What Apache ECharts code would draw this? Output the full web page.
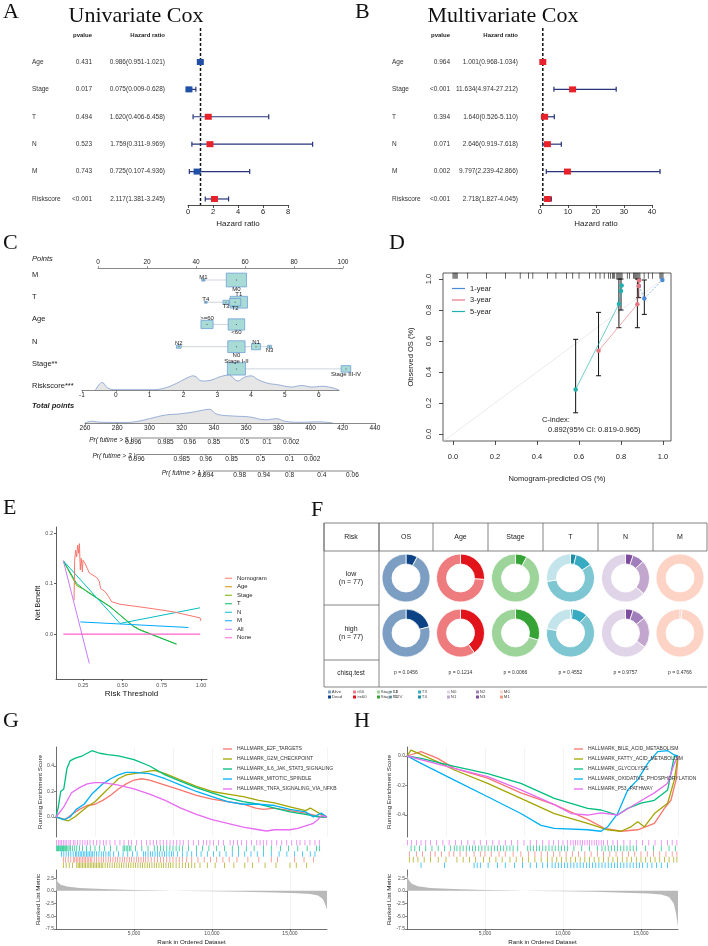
<!DOCTYPE html>
<html>
<head>
<meta charset="utf-8">
<script src="https://cdn.jsdelivr.net/npm/echarts@6.0.0/dist/echarts.min.js"></script>
<style>
html,body{margin:0;padding:0;background:#fff;}
#main{width:708px;height:946px;}
</style>
</head>
<body>
<div id="main"></div>
<script>
// ---------- data ----------
// A / B: cox regression
var coxVars = ['Age', 'Stage', 'T', 'N', 'M', 'Riskscore'];
var uniP = ['0.431', '0.017', '0.494', '0.523', '0.743', '<0.001'];
var uniHR = [0.986, 0.075, 1.620, 1.759, 0.725, 2.117];
var uniLo = [0.951, 0.009, 0.406, 0.311, 0.107, 1.381];
var uniHi = [1.021, 0.628, 6.458, 9.969, 4.936, 3.245];
var multiP = ['0.964', '<0.001', '0.394', '0.071', '0.002', '<0.001'];
var multiHR = [1.001, 11.634, 1.640, 2.646, 9.797, 2.718];
var multiLo = [0.968, 4.974, 0.526, 0.919, 2.239, 1.827];
var multiHi = [1.034, 27.212, 5.110, 7.618, 42.866, 4.045];

// C: nomogram
var nomoVars = ['M', 'T', 'Age', 'N', 'Stage**'];
var nomoLevels = [['M1', 'M0'], ['T4', 'T3', 'T2', 'T1'], ['>=60', '<60'], ['N2', 'N0', 'N1', 'N3'], ['Stage I-II', 'Stage III-IV']];
var nomoPoints = [[43, 56.5], [44, 52.2, 56, 57.5], [44.5, 56.5], [33, 56.5, 64.5, 70], [56.5, 101.2]];
var nomoCounts = [[4, 150], [3, 12, 45, 110], [54, 100], [8, 110, 30, 6], [120, 34]];
var riskDensity = [[-0.6, 0], [-0.5, 0.35], [-0.4, 0.5], [-0.25, 0.15], [0, 0.02], [1, 0.02], [1.4, 0.1], [1.8, 0.45], [2.1, 0.8], [2.3, 0.95], [2.55, 0.6], [2.8, 0.65], [3.1, 0.9], [3.35, 1.0], [3.6, 0.6], [3.8, 0.85], [4.0, 0.95], [4.2, 0.7], [4.5, 0.45], [4.8, 0.35], [5.2, 0.2], [5.5, 0.3], [5.8, 0.2], [6.1, 0.25], [6.4, 0.15], [6.6, 0]];
var riskTicks = [-1, 0, 1, 2, 3, 4, 5, 6];
var totalDensity = [[260, 0], [264, 0.12], [270, 0.05], [285, 0.04], [292, 0.1], [300, 0.3], [310, 0.55], [318, 0.62], [327, 0.75], [333, 0.88], [337, 0.95], [342, 0.6], [352, 0.48], [362, 0.42], [372, 0.22], [379, 0.3], [384, 0.12], [393, 0.05], [405, 0.08], [414, 0]];
var prLabels = ['Pr( futime > 5 )', 'Pr( futime > 3 )', 'Pr( futime > 1 )'];
var prTicks = [['0.996', '0.985', '0.96', '0.85', '0.5', '0.1', '0.002'],
               ['0.996', '0.985', '0.96', '0.85', '0.5', '0.1', '0.002'],
               ['0.994', '0.98', '0.94', '0.8', '0.4', '0.06']];
var prTotal = [[290, 310, 325, 340, 359, 373, 388],
               [292, 320, 335, 351, 369, 387, 401],
               [335, 356, 371, 387, 407, 426]];

// D: calibration
var calTicks = [0, 0.2, 0.4, 0.6, 0.8, 1.0];
var calYears = ['1-year', '3-year', '5-year'];
var cal1 = [[0.885, 0.955], [0.911, 0.875], [0.997, 0.994]];
var cal3 = [[0.693, 0.537], [0.878, 0.837], [0.884, 0.955], [0.886, 0.99]];
var cal5 = [[0.584, 0.288], [0.79, 0.839], [0.80, 0.923], [0.803, 0.959]];
var calBars = [[0.584, 0.137, 0.611], [0.693, 0.376, 0.785], [0.79, 0.686, 1.0], [0.80, 0.80, 1.0], [0.878, 0.686, 1.0], [0.884, 0.88, 1.0], [0.911, 0.772, 0.994]];
var calRug = [0.0, 0.005, 0.01, 0.015, 0.02, 0.07, 0.16, 0.25, 0.32, 0.36, 0.38, 0.45, 0.49, 0.54, 0.57, 0.6, 0.65, 0.68, 0.7, 0.72, 0.74, 0.75, 0.76, 0.765, 0.77, 0.78, 0.785, 0.79, 0.795, 0.8, 0.805, 0.83, 0.84, 0.86, 0.865, 0.87, 0.875, 0.88, 0.885, 0.89, 0.91, 0.93, 0.95, 0.985, 0.99, 0.995, 1.0];

// E: decision curves
var dcaNames = ['Nomogram', 'Age', 'Stage', 'T', 'N', 'M', 'All', 'None'];
var dcaNomogram = [[0.193, 0.067], [0.197, 0.146], [0.203, 0.166], [0.21, 0.153], [0.216, 0.176], [0.222, 0.16], [0.227, 0.179], [0.233, 0.127], [0.239, 0.15], [0.246, 0.123], [0.25, 0.146], [0.263, 0.14], [0.277, 0.13], [0.29, 0.121], [0.337, 0.112], [0.354, 0.104], [0.362, 0.09], [0.39, 0.084], [0.411, 0.075], [0.432, 0.064], [0.485, 0.059], [0.676, 0.051], [0.824, 0.044], [0.994, 0.032], [1.0, 0.026]];
var dcaAge = [];
var dcaStage = [[0.125, 0.145], [0.21, 0.096], [0.27, 0.086], [0.42, 0.055], [0.57, 0.016], [0.61, 0.009], [0.844, -0.02]];
var dcaT = [[0.125, 0.145], [0.21, 0.1], [0.274, 0.084], [0.422, 0.054], [0.57, 0.015], [0.612, 0.008], [0.844, -0.02]];
var dcaN = [[0.125, 0.145], [0.485, 0.021], [0.994, 0.052]];
var dcaM = [[0.233, 0.024], [0.92, 0.013]];
var dcaAll = [[0.125, 0.145], [0.29, -0.058]];
var dcaNone = [[0.125, 0], [0.995, 0]];

// F: clinical feature table
var fVars = ['OS', 'Age', 'Stage', 'T', 'N', 'M'];
var fLevels = [['Alive', 'Dead'], ['<60', '>=60'], ['Stage I-II', 'Stage III-IV'], ['T1', 'T2', 'T3', 'T4'], ['N0', 'N1', 'N2', 'N3'], ['M0', 'M1']];
var fLow = [[71, 6], [57, 20], [71, 6], [21, 44, 9, 3], [49, 18, 6, 4], [77, 0]];
var fHigh = [[61, 16], [46, 31], [54, 23], [17, 51, 8, 1], [50, 16, 7, 4], [76, 1]];
var fRows = ['low\n(n = 77)', 'high\n(n = 77)'];
var fPvals = ['p = 0.0456', 'p = 0.1214', 'p = 0.0066', 'p = 0.4552', 'p = 0.9757', 'p = 0.4766'];

// G / H: GSEA
var rankMax = 17372;
var gNames = ['HALLMARK_E2F_TARGETS', 'HALLMARK_G2M_CHECKPOINT', 'HALLMARK_IL6_JAK_STAT3_SIGNALING', 'HALLMARK_MITOTIC_SPINDLE', 'HALLMARK_TNFA_SIGNALING_VIA_NFKB'];
var gE2F = [[0, 0], [600, -0.02], [1000, 0.02], [1500, 0.06], [2000, 0.09], [2500, 0.1], [3000, 0.13], [3500, 0.17], [4000, 0.22], [4500, 0.26], [5000, 0.29], [5500, 0.3], [6000, 0.29], [7000, 0.25], [8000, 0.21], [9000, 0.17], [10000, 0.14], [11000, 0.12], [12000, 0.1], [12800, 0.07], [13300, 0.06], [14000, 0.07], [15000, 0.05], [16000, 0.03], [17000, 0.0], [17372, 0]];
var gG2M = [[0, 0], [500, -0.02], [800, -0.03], [1200, 0.0], [2000, 0.08], [2500, 0.12], [3000, 0.18], [3500, 0.24], [4000, 0.3], [4500, 0.33], [5000, 0.34], [5500, 0.35], [6300, 0.365], [7000, 0.34], [8000, 0.29], [9000, 0.24], [10000, 0.2], [11000, 0.18], [12000, 0.16], [13000, 0.13], [14000, 0.11], [15000, 0.08], [16000, 0.05], [16300, 0.07], [17000, 0.02], [17372, 0]];
var gIL6 = [[0, 0], [150, 0.08], [300, 0.2], [500, 0.22], [700, 0.38], [900, 0.44], [1200, 0.46], [1700, 0.48], [2300, 0.52], [2800, 0.5], [3300, 0.49], [4000, 0.48], [5000, 0.45], [6000, 0.4], [7000, 0.33], [8000, 0.28], [9000, 0.23], [10000, 0.19], [11000, 0.15], [12000, 0.12], [13000, 0.1], [14000, 0.07], [15000, 0.04], [16000, 0.02], [16800, 0.0], [17372, 0]];
var gMIT = [[0, 0], [500, -0.02], [900, 0.0], [1300, 0.06], [1800, 0.1], [2300, 0.18], [3000, 0.26], [3500, 0.3], [4000, 0.33], [4500, 0.35], [5000, 0.35], [6000, 0.34], [7000, 0.3], [8000, 0.25], [9000, 0.2], [10000, 0.16], [11000, 0.12], [12000, 0.1], [13000, 0.1], [14000, 0.09], [15000, 0.06], [16000, 0.04], [16500, 0.0], [17000, 0.03], [17372, 0]];
var gTNF = [[0, 0], [500, 0.08], [1000, 0.19], [1500, 0.23], [2000, 0.26], [2500, 0.27], [3000, 0.27], [3500, 0.26], [4000, 0.25], [5000, 0.22], [6000, 0.18], [7000, 0.13], [8000, 0.07], [9000, 0.02], [10000, -0.02], [11000, -0.05], [12000, -0.08], [13000, -0.1], [13500, -0.11], [14000, -0.1], [15000, -0.1], [15500, -0.09], [16000, -0.07], [16500, -0.05], [16800, -0.02], [17000, 0.01], [17372, 0]];
var gHitsE2F = [470, 620, 780, 950, 1110, 1200, 1300, 1400, 1500, 1600, 1700, 1800, 1900, 2000, 2100, 2200, 2300, 2450, 2600, 2750, 2900, 3050, 3200, 3350, 3500, 3650, 3800, 3950, 4100, 4250, 4400, 4550, 4700, 4850, 5000, 5150, 5300, 5450, 5600, 5750, 5900, 6100, 6300, 6500, 6700, 6900, 7100, 7300, 7500, 7700, 7900, 8100, 8380, 8700, 9100, 9500, 9900, 10300, 10700, 11100, 11600, 12300, 13000, 13800, 14200, 15300, 15900, 16500];
var gHitsG2M = [470, 650, 850, 1050, 1330, 1420, 1510, 1600, 1700, 1800, 1900, 2000, 2100, 2200, 2300, 2400, 2500, 2600, 2700, 2800, 2900, 3000, 3150, 3300, 3450, 3600, 3750, 3900, 4050, 4200, 4350, 4500, 4650, 4800, 4950, 5100, 5250, 5400, 5550, 5700, 5850, 6000, 6150, 6300, 6450, 6600, 6750, 6900, 7050, 7200, 7350, 7500, 7700, 7900, 8100, 8300, 8500, 8700, 8900, 9230, 9700, 10200, 10800, 11400, 12100, 12600, 13400, 14100, 15000, 15400, 16070];
var gHitsIL6 = [40, 90, 150, 200, 260, 310, 370, 420, 480, 530, 600, 680, 760, 840, 930, 1050, 1200, 1330, 1500, 1700, 1950, 2200, 2500, 2800, 3100, 3500, 3900, 4300, 4400, 4500, 4600, 4700, 4800, 5100, 5500, 5900, 6300, 6500, 6700, 6900, 7100, 7300, 7500, 7700, 7900, 8100, 8500, 9000, 9400, 9800, 10300, 10800, 11300, 11700, 12200, 12700, 13300, 13800, 14400, 14900, 15500, 16100, 16700, 16900];
var gHitsMIT = [360, 500, 650, 800, 950, 1100, 1250, 1330, 1450, 1550, 1650, 1750, 1850, 1950, 2050, 2150, 2250, 2350, 2450, 2600, 2750, 2900, 3050, 3200, 3350, 3460, 3700, 4000, 4300, 4600, 4900, 5200, 5600, 5750, 5900, 6050, 6200, 6350, 6500, 6650, 6800, 6950, 7100, 7250, 7400, 7520, 7800, 8100, 8400, 8700, 9000, 9300, 9700, 10100, 10500, 10900, 11300, 11700, 12100, 12500, 12900, 13300, 13800, 14300, 14800, 15300, 15800, 16300, 16600];
var gHitsTNF = [40, 150, 260, 360, 470, 580, 690, 830, 940, 1110, 1220, 1370, 1540, 1710, 1860, 2010, 2180, 2390, 2610, 2820, 3040, 3210, 3460, 3780, 4100, 4360, 4640, 4850, 5170, 5490, 5810, 6030, 6240, 6450, 6670, 6880, 7100, 7310, 7520, 7740, 7950, 8160, 8480, 8800, 9130, 9450, 9660, 9870, 10090, 10410, 10730, 11160, 11370, 11630, 11900, 12220, 12540, 12870, 13080, 13290, 13510, 13830, 14150, 14470, 14790, 15110, 15430, 15640, 15960, 16280, 16600, 16880];
var gMetric = [[0, 2.6], [100, 1.8], [300, 1.2], [700, 0.85], [1500, 0.55], [3000, 0.35], [5000, 0.18], [7000, 0.05], [7400, 0.02], [8300, -0.02], [10000, -0.1], [12000, -0.2], [14000, -0.3], [15500, -0.45], [16300, -0.6], [16800, -0.9], [17100, -1.6], [17250, -2.6], [17372, -3.7]];

var hNames = ['HALLMARK_BILE_ACID_METABOLISM', 'HALLMARK_FATTY_ACID_METABOLISM', 'HALLMARK_GLYCOLYSIS', 'HALLMARK_OXIDATIVE_PHOSPHORYLATION', 'HALLMARK_P53_PATHWAY'];
var hBILE = [[0, 0], [900, 0.03], [1966, -0.016], [3035, -0.084], [5170, -0.15], [7300, -0.25], [9445, -0.33], [11580, -0.43], [12650, -0.49], [13720, -0.51], [14790, -0.5], [15860, -0.456], [16500, -0.355], [16920, -0.3], [17250, -0.16], [17372, 0]];
var hFATTY = [[0, 0], [256, 0.04], [1966, -0.04], [3035, -0.095], [5170, -0.185], [7300, -0.287], [9445, -0.39], [11580, -0.456], [12860, -0.5], [13720, -0.51], [14360, -0.48], [14790, -0.445], [15210, -0.48], [15860, -0.39], [16710, -0.32], [17140, -0.16], [17372, 0]];
var hGLY = [[0, 0], [900, -0.016], [3035, -0.07], [5170, -0.12], [7300, -0.185], [9445, -0.287], [11580, -0.355], [12440, -0.366], [13500, -0.4], [14150, -0.355], [15000, -0.32], [15860, -0.3], [16710, -0.23], [17140, 0.0], [17372, 0]];
var hOXP = [[0, 0], [900, -0.05], [3035, -0.163], [5170, -0.276], [7300, -0.39], [8590, -0.47], [9445, -0.49], [11580, -0.5], [12440, -0.51], [12860, -0.48], [13500, -0.39], [14150, -0.23], [14790, -0.16], [15430, -0.05], [16070, 0.03], [16710, 0.036], [17140, 0.007], [17372, 0]];
var hP53 = [[0, 0], [3035, -0.084], [5170, -0.14], [7300, -0.23], [9445, -0.33], [10510, -0.39], [11580, -0.4], [12440, -0.385], [13500, -0.4], [14360, -0.344], [15210, -0.29], [15860, -0.25], [16710, -0.185], [17140, -0.05], [17372, 0]];
var hHitsBILE = [150, 600, 1000, 1500, 1800, 2200, 2700, 3000, 3400, 3800, 4300, 4700, 5000, 5400, 5900, 6300, 6800, 7300, 7800, 8200, 8600, 9000, 9400, 9800, 10200, 10600, 11000, 11400, 11800, 12200, 12600, 13000, 13400, 13800, 14200, 14600, 15000, 15400, 15800, 16200, 16600, 17000, 17300];
var hHitsFATTY = [150, 400, 700, 1100, 1500, 2000, 2500, 3200, 3600, 4000, 4400, 4900, 5300, 5700, 6100, 6600, 7000, 7400, 7800, 8200, 8600, 9000, 9300, 9600, 9900, 10200, 10500, 10800, 11100, 11400, 11700, 12000, 12300, 12600, 12900, 13200, 13500, 13800, 14100, 14400, 14700, 15000, 15300, 15600, 15900, 16200, 16500, 16800, 17100, 17300];
var hHitsGLY = [260, 500, 800, 1200, 1600, 2000, 2400, 2800, 3030, 3200, 3400, 3600, 3800, 4000, 4200, 4400, 4600, 4800, 5000, 5200, 5400, 5600, 5800, 6000, 6200, 6400, 6600, 6800, 7100, 7740, 7900, 8100, 8300, 8500, 8700, 8900, 9100, 9300, 9500, 9700, 9900, 10100, 10300, 10700, 11200, 11700, 12200, 12500, 12700, 12900, 13100, 13300, 13500, 13700, 13900, 14100, 14300, 14500, 14700, 15300, 15800, 16300, 16800, 17200];
var hHitsOXP = [900, 2400, 4300, 4500, 4700, 5200, 5800, 6300, 6900, 7400, 7900, 8300, 8700, 9000, 9300, 9500, 9700, 9900, 10100, 10300, 10500, 10700, 10900, 11100, 11300, 11500, 11700, 11900, 12100, 12300, 12500, 12700, 12900, 13100, 13300, 13500, 13700, 13900, 14100, 14300, 14500, 14700, 14900, 15100, 15400, 15700, 16000, 16300, 16700];
var hHitsP53 = [40, 300, 600, 900, 1200, 1500, 1900, 2300, 2700, 3100, 3500, 3900, 4300, 4700, 5100, 5500, 5900, 6300, 6700, 7100, 7500, 7900, 8300, 8700, 9100, 9400, 9700, 10000, 10300, 10500, 10650, 10800, 10950, 11100, 11250, 11400, 11550, 11700, 11850, 12000, 12150, 12300, 12450, 12600, 12860, 13200, 13500, 13900, 14300, 14700, 15100, 15500, 15900, 16300, 16700, 17000, 17300];
var hMetric = [[0, 3.2], [100, 2.2], [300, 1.4], [700, 0.9], [1500, 0.55], [3000, 0.35], [5000, 0.18], [7000, 0.05], [7400, 0.02], [8300, -0.02], [10000, -0.1], [12000, -0.2], [14000, -0.35], [15500, -0.5], [16300, -0.7], [16800, -1.2], [17100, -2.5], [17250, -4.5], [17372, -7.0]];
var esTicksG = [0, 0.2, 0.4];
var esTicksH = [-0.4, -0.2, 0];
var metricTicks = [-7.5, -5, -2.5, 0, 2.5];
var rankTicks = [5000, 10000, 15000];

// ---------- helpers ----------
var SANS = '"Liberation Sans", Arial, sans-serif';
var SERIF = '"Liberation Serif", "DejaVu Serif", serif';
var hue = ['#F8766D', '#A3A500', '#00BF7D', '#00B0F6', '#E76BF3'];
var grids = [], xAxes = [], yAxes = [], series = [], graphics = [], legends = [];

function merge(a, b) {
  for (var k in b) {
    if (b[k] && typeof b[k] === 'object' && !Array.isArray(b[k]) && typeof b[k] !== 'function' &&
        a[k] && typeof a[k] === 'object' && !Array.isArray(a[k])) merge(a[k], b[k]);
    else a[k] = b[k];
  }
  return a;
}
function axis(o) {
  return merge({
    type: 'value',
    axisLine: {show: true, onZero: false, lineStyle: {color: '#222', width: 0.8}},
    axisTick: {show: true, inside: false, length: 3, lineStyle: {color: '#222', width: 0.8}},
    axisLabel: {fontSize: 7, color: '#222', margin: 3, fontFamily: SANS},
    splitLine: {show: false},
    nameLocation: 'middle',
    nameTextStyle: {fontSize: 8, color: '#222', fontFamily: SANS}
  }, o || {});
}
function hidden(o) {
  return merge({type: 'value', show: false, axisLine: {onZero: false}, splitLine: {show: false}}, o || {});
}
function addGrid(g, xa, ya) {
  g.outerBoundsMode = 'none';
  g.containLabel = false;
  grids.push(g);
  var gi = grids.length - 1;
  xa.gridIndex = gi; ya.gridIndex = gi;
  xAxes.push(xa); yAxes.push(ya);
  return gi;
}
function add(gi, s) {
  s.xAxisIndex = gi; s.yAxisIndex = gi; s.silent = true;
  series.push(s);
}
function T(x, y, s, size, o) {
  o = o || {};
  var font = [o.style || '', o.weight || '', size + 'px', o.family || SANS].join(' ').trim();
  graphics.push({type: 'text', silent: true, z: 10, style: {
    text: s, x: x, y: y, font: font, fill: o.color || '#222',
    textAlign: o.align || 'left', align: o.align || 'left',
    textVerticalAlign: o.valign || 'middle', verticalAlign: o.valign || 'middle',
    lineHeight: o.lineHeight || size * 1.2
  }});
}
function L(x1, y1, x2, y2, c, w) {
  graphics.push({type: 'line', silent: true, shape: {x1: x1, y1: y1, x2: x2, y2: y2},
    style: {stroke: c || '#555', lineWidth: w || 0.8}});
}
function fmt(d) { return function (v) { return (+v).toFixed(d); }; }

// ---------- panel letters and titles ----------
[['A', 3, 12], ['B', 355, 12], ['C', 3, 243], ['D', 389, 243], ['E', 3, 508], ['F', 311, 510], ['G', 3, 721], ['H', 354, 721]].forEach(function (p) {
  T(p[1], p[2], p[0], 22, {family: SERIF, color: '#111'});
});
T(136, 16, 'Univariate Cox', 22, {family: SERIF, align: 'center', color: '#111'});
T(503, 16, 'Multivariate Cox', 22, {family: SERIF, align: 'center', color: '#111'});

// ---------- A / B forest plots ----------
function forestItem(colorFn) {
  return function (params, api) {
    var r = api.value(1);
    var c = api.coord([api.value(0), r]);
    var lo = api.coord([api.value(2), r]);
    var hi = api.coord([api.value(3), r]);
    var ln = {stroke: '#26357a', lineWidth: 1.2};
    return {type: 'group', children: [
      {type: 'line', shape: {x1: lo[0], y1: c[1], x2: hi[0], y2: c[1]}, style: ln},
      {type: 'line', shape: {x1: lo[0], y1: c[1] - 2.5, x2: lo[0], y2: c[1] + 2.5}, style: ln},
      {type: 'line', shape: {x1: hi[0], y1: c[1] - 2.5, x2: hi[0], y2: c[1] + 2.5}, style: ln},
      {type: 'rect', shape: {x: c[0] - 3.5, y: c[1] - 3, width: 7, height: 6}, style: {fill: colorFn(api.value(0))}}
    ]};
  };
}
function forestPanel(left, width, max, interval, hr, lo, hi, colorFn) {
  var gi = addGrid({left: left, top: 28, width: width, height: 177},
    axis({min: 0, max: max, interval: interval, name: 'Hazard ratio', nameGap: 15,
          axisLabel: {fontSize: 7.5}, nameTextStyle: {fontSize: 8}}),
    hidden({inverse: true, min: -1.24, max: 5.22}));
  add(gi, {type: 'line', data: [[1, -1.24], [1, 5.22]], symbol: 'none', z: 1,
    lineStyle: {color: '#111', width: 1.5, type: [3, 2]}});
  add(gi, {type: 'custom', clip: false, z: 3, renderItem: forestItem(colorFn),
    data: hr.map(function (v, i) { return [v, i, lo[i], hi[i]]; })});
}
forestPanel(188, 100, 8, 2, uniHR, uniLo, uniHi, function (v) { return v < 1 ? '#1f4fa6' : '#e8222a'; });
forestPanel(540, 112, 40, 10, multiHR, multiLo, multiHi, function () { return '#e8222a'; });

function forestText(x0, pvRight, hrRight, pv, hr, lo, hi) {
  T(pvRight, 35, 'pvalue', 6, {weight: 'bold', align: 'right'});
  T(hrRight, 35, 'Hazard ratio', 6, {weight: 'bold', align: 'right'});
  coxVars.forEach(function (v, i) {
    var y = 62 + 27.4 * i;
    T(x0, y, v, 6.5, {color: '#333'});
    T(pvRight, y, pv[i], 6.5, {align: 'right', color: '#333'});
    T(hrRight, y, hr[i].toFixed(3) + '(' + lo[i].toFixed(3) + '-' + hi[i].toFixed(3) + ')', 6.5, {align: 'right', color: '#333'});
  });
}
forestText(32, 92, 165, uniP, uniHR, uniLo, uniHi);
forestText(392, 450, 518, multiP, multiHR, multiLo, multiHi);

// ---------- C nomogram ----------
[['Points', 259, 'italic', ''], ['M', 275], ['T', 297], ['Age', 319], ['N', 342], ['Stage**', 364], ['Riskscore***', 386], ['Total points', 406, 'italic', 'bold']].forEach(function (r) {
  T(32, r[1], r[0], 7.5, {style: r[2] || '', weight: r[3] || '', color: '#222'});
});
var gPts = addGrid({left: 98, top: 268, width: 245, height: 110},
  axis({position: 'top', min: 0, max: 100, interval: 20, axisLine: {lineStyle: {color: '#555', width: 0.7}},
        axisTick: {length: 2, lineStyle: {color: '#555', width: 0.6}}, axisLabel: {fontSize: 6.5, margin: 2}}),
  hidden({inverse: true, min: -0.54, max: 4.41}));
add(gPts, {type: 'custom', clip: false, z: 2,
  data: nomoPoints.map(function (p, r) { return [Math.min.apply(null, p), r, Math.max.apply(null, p)]; }),
  renderItem: function (params, api) {
    var a = api.coord([api.value(0), api.value(1)]), b = api.coord([api.value(2), api.value(1)]);
    return {type: 'line', shape: {x1: a[0], y1: a[1], x2: b[0], y2: b[1]}, style: {stroke: '#c3cad4', lineWidth: 0.8}};
  }});
var labelAbove = {'M1': 1, 'T4': 1, 'T1': 1, '>=60': 1, 'N2': 1, 'N1': 1, 'Stage I-II': 1};
var boxes = [];
nomoPoints.forEach(function (p, r) {
  p.forEach(function (v, k) { boxes.push([v, r, nomoCounts[r][k], nomoLevels[r][k]]); });
});
boxes.sort(function (a, b) { return b[2] - a[2]; });
add(gPts, {type: 'custom', clip: false, z: 3,
  data: boxes.map(function (b) { return b.slice(0, 3); }),
  renderItem: function (params, api) {
    var c = api.coord([api.value(0), api.value(1)]);
    var w = 1.65 * Math.sqrt(api.value(2)), h = w * 0.68;
    var name = boxes[params.dataIndex][3];
    var up = labelAbove[name];
    return {type: 'group', children: [
      {type: 'rect', shape: {x: c[0] - w / 2, y: c[1] - h / 2, width: w, height: h},
        style: {fill: '#a9dbd6', stroke: '#6f9fd8', lineWidth: 0.8}},
      {type: 'rect', shape: {x: c[0] - 0.5, y: c[1] - 0.5, width: 1, height: 1}, style: {fill: '#555'}},
      {type: 'text', style: {text: name, x: c[0], y: up ? c[1] - h / 2 + 1.5 : c[1] + h / 2 - 0.5,
        textAlign: 'center', align: 'center', textVerticalAlign: up ? 'bottom' : 'top', verticalAlign: up ? 'bottom' : 'top',
        font: '6px ' + SANS, fill: '#222'}}
    ]};
  }});

var gRisk = addGrid({left: 82, top: 374, width: 257, height: 16},
  axis({min: -1, max: 6.6, axisLine: {lineStyle: {color: '#555', width: 0.7}},
        axisTick: {length: 2, customValues: riskTicks, lineStyle: {color: '#555', width: 0.6}},
        axisLabel: {fontSize: 6.5, margin: 2, customValues: riskTicks}}),
  hidden({min: 0, max: 1.07}));
add(gRisk, {type: 'line', data: riskDensity, smooth: 0.4, symbol: 'none',
  lineStyle: {color: '#7394cc', width: 0.7}, areaStyle: {color: '#e6e6e6', opacity: 1}});

var gTot = addGrid({left: 85, top: 407, width: 290, height: 16},
  axis({min: 260, max: 440, interval: 20, axisLine: {lineStyle: {color: '#555', width: 0.7}},
        axisTick: {length: 2, lineStyle: {color: '#555', width: 0.6}}, axisLabel: {fontSize: 6.5, margin: 2}}),
  hidden({min: 0, max: 1.1}));
add(gTot, {type: 'line', data: totalDensity, smooth: 0.4, symbol: 'none',
  lineStyle: {color: '#7394cc', width: 0.7}, areaStyle: {color: '#e6e6e6', opacity: 1}});

var gPr = addGrid({left: 85, top: 430, width: 290, height: 46},
  hidden({min: 260, max: 440}), hidden({inverse: true, min: -0.485, max: 2.303}));
add(gPr, {type: 'custom', clip: false,
  data: prLabels.map(function (l, i) { return [prTotal[i][0], i]; }),
  renderItem: function (params, api) {
    var i = params.dataIndex, tp = prTotal[i], ch = [];
    var a = api.coord([tp[0], i]), b = api.coord([tp[tp.length - 1], i]);
    var y = a[1];
    ch.push({type: 'line', shape: {x1: a[0], y1: y, x2: b[0], y2: y}, style: {stroke: '#555', lineWidth: 0.7}});
    tp.forEach(function (v, k) {
      var x = api.coord([v, i])[0];
      ch.push({type: 'line', shape: {x1: x, y1: y, x2: x, y2: y + 1.5}, style: {stroke: '#555', lineWidth: 0.6}});
      ch.push({type: 'text', style: {text: prTicks[i][k], x: x, y: y + 1.2, textAlign: 'center', align: 'center',
        textVerticalAlign: 'top', verticalAlign: 'top', font: '6.5px ' + SANS, fill: '#222'}});
    });
    ch.push({type: 'text', style: {text: prLabels[i], x: a[0] - 1, y: y + 2, textAlign: 'right', align: 'right',
      textVerticalAlign: 'middle', verticalAlign: 'middle', font: 'italic 6.5px ' + SANS, fill: '#222'}});
    return {type: 'group', children: ch};
  }});

// ---------- D calibration ----------
var calColors = ['#4a8ad6', '#e37880', '#1fb1ad'];
var gD = addGrid({left: 443, top: 273, width: 228, height: 168, show: true, borderColor: '#333', borderWidth: 0.8},
  axis({min: -0.0476, max: 1.038, axisLine: {show: false}, axisTick: {length: 4, customValues: calTicks},
        axisLabel: {fontSize: 7.5, margin: 12, customValues: calTicks, formatter: fmt(1)},
        name: 'Nomogram-predicted OS (%)', nameGap: 34, nameTextStyle: {fontSize: 7.5}}),
  axis({min: -0.045, max: 1.039, axisLine: {show: false}, axisTick: {length: 4, customValues: calTicks},
        axisLabel: {fontSize: 7.5, margin: 10, rotate: 90, customValues: calTicks, formatter: fmt(1)},
        name: 'Observed OS (%)', nameGap: 28, nameTextStyle: {fontSize: 7.5}}));
add(gD, {type: 'line', data: [[-0.05, -0.05], [1.03, 1.03]], symbol: 'none', lineStyle: {color: '#e4e4e4', width: 0.8}, z: 1});
add(gD, {type: 'scatter', data: calRug.map(function (v) { return [v, 1.021]; }), symbol: 'rect', symbolSize: [0.8, 6],
  itemStyle: {color: '#111'}, z: 2});
add(gD, {type: 'custom', clip: false, z: 3, data: calBars,
  renderItem: function (params, api) {
    var a = api.coord([api.value(0), api.value(1)]), b = api.coord([api.value(0), api.value(2)]);
    var st = {stroke: '#111', lineWidth: 1};
    return {type: 'group', children: [
      {type: 'line', shape: {x1: a[0], y1: a[1], x2: b[0], y2: b[1]}, style: st},
      {type: 'line', shape: {x1: a[0] - 2.5, y1: a[1], x2: a[0] + 2.5, y2: a[1]}, style: st},
      {type: 'line', shape: {x1: b[0] - 2.5, y1: b[1], x2: b[0] + 2.5, y2: b[1]}, style: st}
    ]};
  }});
[cal1, cal3, cal5].forEach(function (d, i) {
  add(gD, {type: 'line', name: calYears[i], data: d, symbol: 'circle', symbolSize: 4.5, z: 4,
    lineStyle: {color: calColors[i], width: 0.8, opacity: 0.8, type: i === 0 ? [2, 1.5] : 'solid'},
    itemStyle: {color: calColors[i]}});
});
legends.push({data: calYears, orient: 'vertical', left: 447, top: 279, icon: 'rect', itemWidth: 13, itemHeight: 1.2,
  itemGap: 2.5, selectedMode: false, textStyle: {fontSize: 7.5, color: '#222', lineHeight: 9, fontFamily: SANS}});
T(542, 420, 'C-index:', 7.5);
T(548, 430, '0.892(95% CI: 0.819-0.965)', 7.5);

// ---------- E decision curve ----------
var dcaColors = ['#F8766D', '#CD9600', '#7CAE00', '#00BE67', '#00BFC4', '#00A9FF', '#C77CFF', '#FF61CC'];
var gE = addGrid({left: 56, top: 527, width: 151, height: 152},
  axis({min: 0.0784, max: 1.038, axisLine: {lineStyle: {color: '#333', width: 0.8}},
        axisTick: {length: 2, customValues: [0.25, 0.5, 0.75, 1.0], lineStyle: {color: '#333'}},
        axisLabel: {fontSize: 5.5, color: '#4d4d4d', margin: 3, customValues: [0.25, 0.5, 0.75, 1.0], formatter: fmt(2)},
        name: 'Risk Threshold', nameGap: 11, nameTextStyle: {fontSize: 8, color: '#111'}}),
  axis({min: -0.089, max: 0.212, axisLine: {lineStyle: {color: '#333', width: 0.8}},
        axisTick: {length: 2, customValues: [0, 0.1, 0.2], lineStyle: {color: '#333'}},
        axisLabel: {fontSize: 5.5, color: '#4d4d4d', margin: 3, customValues: [0, 0.1, 0.2], formatter: fmt(1)},
        name: 'Net Benefit', nameGap: 13, nameTextStyle: {fontSize: 7, color: '#111'}}));
[dcaNomogram, dcaAge, dcaStage, dcaT, dcaN, dcaM, dcaAll, dcaNone].forEach(function (d, i) {
  add(gE, {type: 'line', name: dcaNames[i], data: d, symbol: 'none', z: i === 0 ? 5 : 3,
    lineStyle: {color: dcaColors[i], width: i === 7 ? 1.3 : 1}, itemStyle: {color: dcaColors[i]}});
});
legends.push({data: dcaNames, orient: 'vertical', left: 220, top: 569, icon: 'rect', itemWidth: 7, itemHeight: 1,
  itemGap: 0, selectedMode: false, textStyle: {fontSize: 6, color: '#222', lineHeight: 8.5, fontFamily: SANS}});

// ---------- F table of donuts ----------
var fColors = [['#7d9ec3', '#0d4384'], ['#ee7b7e', '#e1141b'], ['#9dd49a', '#35a335'],
               ['#c2e4ea', '#7ec6d2', '#36abc1', '#1a8fa6'], ['#e0d5e8', '#c3a6ce', '#a07fbc', '#7d4c9d'], ['#fcd3c5', '#f39a7c']];
var colX = [324, 379, 433, 488, 543, 598, 653, 707];
var fRowY = [578, 633];
var tc = '#666';
L(324, 523, 707, 523, tc); L(324, 551, 707, 551, tc);
colX.forEach(function (x) { L(x, 523, x, 551, tc); });
L(324, 523, 324, 687, tc); L(379, 523, 379, 687, tc);
L(324, 605, 379, 605, tc); L(324, 660, 379, 660, tc); L(324, 687, 707, 687, tc);
T(351, 537, 'Risk', 7, {align: 'center'});
fVars.forEach(function (v, c) {
  var cx = (colX[c + 1] + colX[c + 2]) / 2;
  T(cx, 537, v, 7, {align: 'center'});
  T(cx, 673, fPvals[c], 5, {align: 'center', color: '#333'});
  [fLow, fHigh].forEach(function (src, r) {
    series.push({type: 'pie', silent: true, center: [cx, fRowY[r]], radius: [14, 24], startAngle: 90, clockwise: true,
      label: {show: false}, labelLine: {show: false}, emphasis: {disabled: true},
      itemStyle: {borderColor: '#fff', borderWidth: 0.8},
      data: fLevels[c].map(function (name, k) {
        return {name: name, value: src[c][k], itemStyle: {color: fColors[c][k]}};
      }).reverse()});
  });
});
fRows.forEach(function (s, r) { T(351, fRowY[r], s, 7, {align: 'center', lineHeight: 8.5}); });
T(351, 673, 'chisq.test', 6.5, {align: 'center'});
// legend swatches, two per column
var legCols = [];
fLevels.forEach(function (lv, c) { for (var k = 0; k < lv.length; k += 2) legCols.push([[lv[k], fColors[c][k]], [lv[k + 1], fColors[c][k + 1]]]); });
var legX = [328, 353, 377, 389, 418, 447, 476, 500];
legCols.forEach(function (col, j) {
  col.forEach(function (it, k) {
    var y = 692 + 5 * k;
    graphics.push({type: 'rect', silent: true, shape: {x: legX[j], y: y - 1.5, width: 3, height: 3}, style: {fill: it[1]}});
    T(legX[j] + 3.8, y, it[0], 4.3, {color: '#444'});
  });
});

// ---------- G / H GSEA ----------
function gseaPanel(left, esMin, esMax, esTicks, curves, names, colors, hits, hitOrder, metric) {
  var gEs = addGrid({left: left, top: 747, width: 271, height: 90},
    axis({min: 0, max: rankMax, interval: 2500, axisLine: {show: false}, axisTick: {show: false}, axisLabel: {show: false},
          splitLine: {show: true, lineStyle: {color: '#ececec', width: 0.6}}}),
    axis({min: esMin, max: esMax, axisLine: {lineStyle: {color: '#333', width: 0.7}},
          axisTick: {length: 2, customValues: esTicks, lineStyle: {color: '#333', width: 0.6}},
          axisLabel: {fontSize: 5, color: '#4d4d4d', margin: 2, customValues: esTicks, formatter: fmt(1)},
          name: 'Running Enrichment Score', nameGap: 13, nameTextStyle: {fontSize: 6.2, color: '#222'}}));
  curves.forEach(function (d, i) {
    add(gEs, {type: 'line', name: names[i], data: d, symbol: 'none', z: 3,
      lineStyle: {color: colors[i], width: 1.3}, itemStyle: {color: colors[i]}});
  });
  legends.push({data: names, orient: 'vertical', left: left + 162, top: 739, icon: 'rect', itemWidth: 9, itemHeight: 1.3,
    itemGap: 0, selectedMode: false, textStyle: {fontSize: 5, color: '#333', lineHeight: 10, fontFamily: SANS}});

  var gRug = addGrid({left: left, top: 840, width: 271, height: 28},
    hidden({min: 0, max: rankMax}), hidden({inverse: true, min: 0, max: 5}));
  hitOrder.forEach(function (si, row) {
    add(gRug, {type: 'scatter', data: hits[si].map(function (v) { return [v, row + 0.5]; }), symbol: 'rect',
      symbolSize: [0.8, 5.6], itemStyle: {color: colors[si], opacity: 0.85}});
  });

  var gM = addGrid({left: left, top: 870, width: 271, height: 59},
    axis({min: 0, max: rankMax, interval: 2500, axisLine: {lineStyle: {color: '#333', width: 0.7}},
          axisTick: {length: 2, customValues: rankTicks, lineStyle: {color: '#333', width: 0.6}},
          axisLabel: {fontSize: 5, color: '#4d4d4d', margin: 2, customValues: rankTicks},
          splitLine: {show: true, lineStyle: {color: '#ececec', width: 0.6}},
          name: 'Rank in Ordered Dataset', nameGap: 10, nameTextStyle: {fontSize: 6.2, color: '#222'}}),
    axis({min: -7.5, max: 4.1, axisLine: {lineStyle: {color: '#333', width: 0.7}},
          axisTick: {length: 2, customValues: metricTicks, lineStyle: {color: '#333', width: 0.6}},
          axisLabel: {fontSize: 5, color: '#4d4d4d', margin: 2, customValues: metricTicks, formatter: fmt(1)},
          name: 'Ranked List Metric', nameGap: 13, nameTextStyle: {fontSize: 6.2, color: '#222'}}));
  add(gM, {type: 'line', data: metric, symbol: 'none', lineStyle: {width: 0}, areaStyle: {color: '#b9b9b9', opacity: 1}});
}
gseaPanel(56, -0.157, 0.549, esTicksG, [gE2F, gG2M, gIL6, gMIT, gTNF], gNames, hue,
  [gHitsE2F, gHitsG2M, gHitsIL6, gHitsMIT, gHitsTNF], [4, 2, 3, 0, 1], gMetric);
gseaPanel(407, -0.549, 0.061, esTicksH, [hBILE, hFATTY, hGLY, hOXP, hP53], hNames, hue,
  [hHitsBILE, hHitsFATTY, hHitsGLY, hHitsOXP, hHitsP53], [4, 2, 0, 1, 3], hMetric);

// ---------- render ----------
var chart = echarts.init(document.getElementById('main'), null, {renderer: 'canvas'});
chart.setOption({
  animation: false,
  backgroundColor: '#fff',
  textStyle: {fontFamily: SANS},
  grid: grids,
  xAxis: xAxes,
  yAxis: yAxes,
  legend: legends,
  series: series,
  graphic: {elements: graphics}
});
</script>
</body>
</html>
